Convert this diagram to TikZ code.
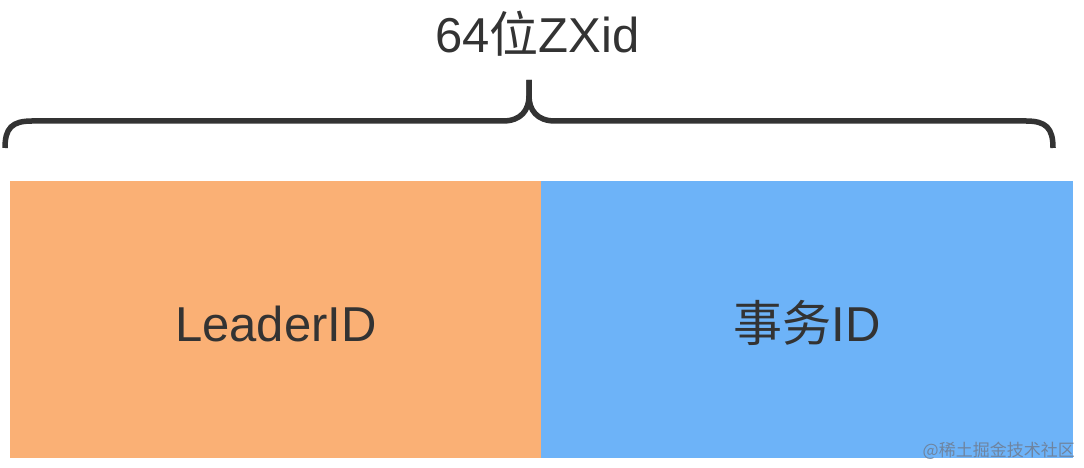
\documentclass[tikz,border=0pt]{standalone}
\usepackage{fontspec}
\setmainfont{Liberation Sans}
\newfontfamily\cjk{Noto Sans CJK SC}
\definecolor{txtgray}{HTML}{333333}
\definecolor{boxorange}{HTML}{FAB075}
\definecolor{boxblue}{HTML}{6DB3F8}
\definecolor{wmgray}{HTML}{6F7F96}
\tikzset{
  bigtext/.style={inner sep=0pt, text=txtgray, font=\fontsize{49}{55}\selectfont},
  fieldbox/.style={draw=none, inner sep=0pt},
  bracestyle/.style={draw=txtgray, line width=5.5pt, line cap=butt, line join=round},
  watermark/.style={inner sep=0pt, text=wmgray, opacity=0.9, font=\cjk\fontsize{17}{19}\selectfont}
}
\begin{document}
\begin{tikzpicture}[x=1pt,y=1pt]
\useasboundingbox (0,0) rectangle (1084,468);
% boxes
\fill[boxorange] (10,10) rectangle (541,287);
\fill[boxblue] (541,10) rectangle (1073,287);
\coordinate (lc) at (276,126);
\coordinate (rc) at (807,126);
\node[bigtext, anchor=base] (leader) at (lc) {LeaderID};
\node[bigtext, anchor=base] (txid) at (rc) {{\cjk 事务}ID};
% title
\node[bigtext, anchor=base] (title) at (537.5,415) {64{\cjk 位}ZXid};
% brace
\coordinate (bl) at (5,320);
\coordinate (br) at (1053,320);
\coordinate (tip) at (529,388);
\draw[bracestyle] (bl) .. controls (5,340) and (12,347) .. (32,347)
  -- (503,347) .. controls (521,347) and (529,358) .. (529,372) -- (tip);
\draw[bracestyle] (tip) -- (529,372) .. controls (529,358) and (537,347) .. (555,347)
  -- (1026,347) .. controls (1046,347) and (1053,340) .. (br);
% watermark
\node[watermark, anchor=base east] (wm) at (1075,11) {@稀土掘金技术社区};
\end{tikzpicture}
\end{document}
